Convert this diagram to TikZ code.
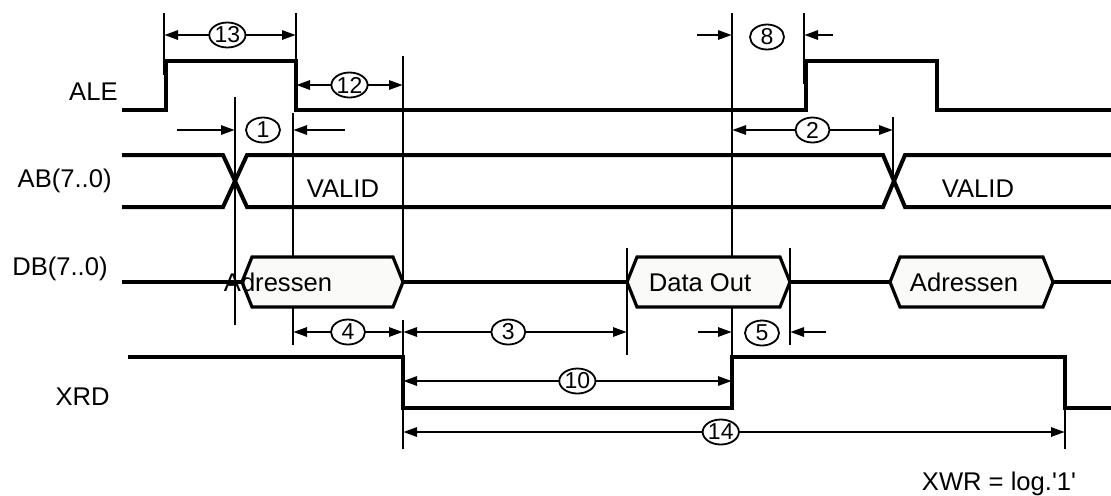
\documentclass[tikz,border=0pt]{standalone}
\usepackage{fontspec}
\setmainfont{Liberation Sans}
\newfontfamily\plainsans{Liberation Sans}[Ligatures=TeXOff]
\usetikzlibrary{arrows.meta,shapes.geometric}
\definecolor{boxfill}{RGB}{250,250,248}
\begin{document}
\begin{tikzpicture}[x=0.5pt,y=-0.5pt,
  sig/.style={line width=2pt, line join=miter},
  guide/.style={line width=1.3pt},
  dim/.style={line width=1.4pt,{Triangle[length=7pt,width=4.5pt]}-{Triangle[length=7pt,width=4.5pt]}},
  ptr/.style={line width=1.4pt,-{Triangle[length=7pt,width=4.5pt]}},
  num/.style={ellipse, draw, line width=0.9pt, fill=white, inner sep=0pt, minimum width=17pt, minimum height=12.5pt, font=\fontsize{11.5}{12}\selectfont},
  lbl/.style={font=\fontsize{12.8}{15}\selectfont, inner sep=0pt},
  busbox/.style={draw, line width=1.6pt, fill=boxfill, line join=miter}
]
\useasboundingbox (0,0) rectangle (1111,495);

% ---- guide lines ----
\draw[guide] (164,13) -- (164,75);
\draw[guide] (296,13) -- (296,61);
\draw[guide] (293,113) -- (293,345);
\draw[guide] (403,56) -- (403,282);
\draw[guide] (403,320) -- (403,449);
\draw[guide] (235,97) -- (235,325);
\draw[guide] (732,13) -- (732,408);
\draw[guide] (804,13) -- (804,84);
\draw[guide] (893,117) -- (893,181);
\draw[guide] (627,248) -- (627,355);
\draw[guide] (790,248) -- (790,345);
\draw[guide] (1065,358) -- (1065,449);

% ---- waveforms ----
\draw[sig] (122,110) -- (166,110) -- (166,61) -- (296,61) -- (296,110) -- (806,110) -- (806,61) -- (937,61) -- (937,110) -- (1111,110);
\draw[sig] (122,155) -- (223,155) -- (247,207) -- (883,207) -- (905,155) -- (1111,155);
\draw[sig] (122,207) -- (223,207) -- (247,155) -- (883,155) -- (905,207) -- (1111,207);
\draw[sig] (122,282) -- (242,282);
\draw[sig] (403,282) -- (627,282);
\draw[sig] (790,282) -- (890,282);
\draw[sig] (1053,282) -- (1111,282);
\draw[sig] (128,357) -- (403,357) -- (403,408) -- (732,408) -- (732,357) -- (1065,357) -- (1065,408) -- (1111,408);

% ---- bus boxes ----
\draw[busbox] (242,282) -- (252,257) -- (393,257) -- (403,282) -- (393,307) -- (252,307) -- cycle;
\draw[busbox] (627,282) -- (637,257) -- (780,257) -- (790,282) -- (780,307) -- (637,307) -- cycle;
\draw[busbox] (890,282) -- (900,257) -- (1043,257) -- (1053,282) -- (1043,307) -- (900,307) -- cycle;
\node[lbl, anchor=base] (adr1) at (278,291) {Adressen};
\node[lbl, anchor=base] (dout) at (700,291) {Data Out};
\node[lbl, anchor=base] (adr2) at (964,291) {Adressen};
\node[lbl, anchor=base] (valid1) at (343,197) {VALID};
\node[lbl, anchor=base] (valid2) at (978,197) {VALID};

% ---- signal names ----
\node[lbl, anchor=base east] (lale) at (118,100) {ALE};
\node[lbl, anchor=base east] (lab) at (112,187) {AB(7..0)};
\node[lbl, anchor=base east] (ldb) at (108,275) {DB(7..0)};
\node[lbl, anchor=base east] (lxrd) at (110,405) {XRD};
\node[lbl, anchor=base] (lxwr) at (999,490) {\plainsans XWR = log.'1'};

% ---- dimension end points ----
\coordinate (a13) at (164,35);  \coordinate (b13) at (296,35);
\coordinate (a12) at (296,85);  \coordinate (b12) at (403,85);
\coordinate (s1l) at (177,130); \coordinate (e1l) at (235,130);
\coordinate (s1r) at (345,130); \coordinate (e1r) at (293,130);
\coordinate (s8l) at (697,35);  \coordinate (e8l) at (732,35);
\coordinate (s8r) at (833,35);  \coordinate (e8r) at (804,35);
\coordinate (a2) at (732,130);  \coordinate (b2) at (893,130);
\coordinate (a4) at (293,332);  \coordinate (b4) at (403,332);
\coordinate (a3) at (403,332);  \coordinate (b3) at (627,332);
\coordinate (s5l) at (698,332); \coordinate (e5l) at (732,332);
\coordinate (s5r) at (826,332); \coordinate (e5r) at (790,332);
\coordinate (a10) at (403,381); \coordinate (b10) at (732,381);
\coordinate (a14) at (403,432); \coordinate (b14) at (1065,432);

% ---- dimensions ----
\draw[dim] (a13) -- (b13) node[num, pos=0.48] (n13) {13};
\draw[dim] (a12) -- (b12) node[num, pos=0.5] (n12) {12};
\draw[ptr] (s1l) -- (e1l);
\draw[ptr] (s1r) -- (e1r);
\node[num] (n1) at (263,130) {1};
\draw[ptr] (s8l) -- (e8l);
\draw[ptr] (s8r) -- (e8r);
\node[num] (n8) at (767,37) {8};
\draw[dim] (a2) -- (b2) node[num, pos=0.5] (n2) {2};
\draw[dim] (a4) -- (b4) node[num, pos=0.5] (n4) {4};
\draw[dim] (a3) -- (b3) node[num, pos=0.47] (n3) {3};
\draw[ptr] (s5l) -- (e5l);
\draw[ptr] (s5r) -- (e5r);
\node[num] (n5) at (762,333) {5};
\draw[dim] (a10) -- (b10) node[num, pos=0.53] (n10) {10};
\draw[dim] (a14) -- (b14) node[num, pos=0.48] (n14) {14};
\end{tikzpicture}
\end{document}
